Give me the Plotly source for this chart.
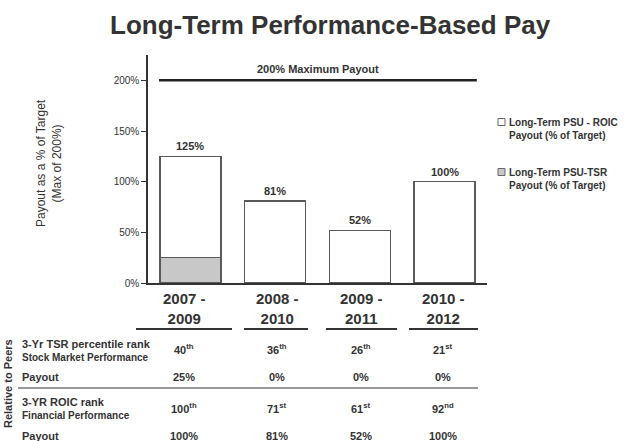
import plotly.graph_objects as go

# ---- data ----
periods = ["2007 -<br>2009", "2008 -<br>2010", "2009 -<br>2011", "2010 -<br>2012"]
tsr_payout = [25, 0, 0, 0]
roic_payout = [100, 81, 52, 100]
total_labels = ["125%", "81%", "52%", "100%"]
tsr_rank = ["40", "36", "26", "21"]
tsr_rank_suffix = ["th", "th", "th", "st"]
tsr_payout_labels = ["25%", "0%", "0%", "0%"]
roic_rank = ["100", "71", "61", "92"]
roic_rank_suffix = ["th", "st", "st", "nd"]
roic_payout_labels = ["100%", "81%", "52%", "100%"]
max_payout = 200
yticks = [0, 50, 100, 150, 200]

FONT = "Arial, Liberation Sans, sans-serif"
TXT = "#333333"

W, H = 627, 441
L, R, T, B = 148, 140, 55, 158
PW, PH = W - L - R, H - T - B


def px(x):
    return (x - L) / PW


def py(y):
    return (H - B - y) / PH


x_idx = list(range(len(periods)))

fig = go.Figure()
fig.add_trace(go.Bar(
    x=x_idx, y=tsr_payout, name="Long-Term PSU-TSR<br>Payout (% of Target)",
    marker=dict(color="#c8c8c8", line=dict(color="#5a5a5a", width=1.5)),
    width=0.72, showlegend=False, hoverinfo="skip"))
fig.add_trace(go.Bar(
    x=x_idx, y=roic_payout, name="Long-Term PSU - ROIC<br>Payout (% of Target)",
    marker=dict(color="#ffffff", line=dict(color="#5a5a5a", width=1.5)),
    width=0.72, showlegend=False, hoverinfo="skip"))

ann = []
# value labels above bars
for i, (a, b) in enumerate(zip(tsr_payout, roic_payout)):
    ann.append(dict(x=i, y=a + b, xref="x", yref="y", text="<b>%s</b>" % total_labels[i],
                    showarrow=False, yanchor="bottom", yshift=2,
                    font=dict(family=FONT, size=11, color=TXT)))

# max payout line
fig.add_shape(type="line", xref="x", yref="y", x0=-0.37, x1=3.38, y0=max_payout, y1=max_payout,
              line=dict(color="#222222", width=2.5))
ann.append(dict(x=1.5, y=max_payout, xref="x", yref="y", text="<b>200% Maximum Payout</b>",
                showarrow=False, yanchor="bottom", yshift=3,
                font=dict(family=FONT, size=11, color=TXT)))

# title
ann.append(dict(x=px(330), y=py(25), xref="paper", yref="paper",
                text="<b>Long-Term Performance-Based Pay</b>", showarrow=False,
                xanchor="center", yanchor="middle",
                font=dict(family=FONT, size=26, color=TXT)))

# y title
ann.append(dict(x=px(49), y=py(163), xref="paper", yref="paper",
                text="Payout as a % of Target<br>(Max of 200%)", showarrow=False,
                textangle=-90, xanchor="center", yanchor="middle",
                font=dict(family=FONT, size=12, color=TXT)))

# legend (manual)
leg = [("Long-Term PSU - ROIC<br>Payout (% of Target)", "#ffffff", 122),
       ("Long-Term PSU-TSR<br>Payout (% of Target)", "#c8c8c8", 172)]
for text, col, yy in leg:
    fig.add_shape(type="rect", xref="paper", yref="paper",
                  x0=px(498), x1=px(505), y0=py(yy + 3.5), y1=py(yy - 3.5),
                  line=dict(color="#666666", width=1), fillcolor=col)
    ann.append(dict(x=px(507), y=py(yy - 7), xref="paper", yref="paper", text="<b>%s</b>" % text,
                    showarrow=False, xanchor="left", yanchor="top", align="left",
                    font=dict(family=FONT, size=10, color=TXT)))

# table
col_x = [184, 277, 361, 443]
line_spans = [(136, 232), (244, 308), (326, 397), (409, 478)]
for i, p in enumerate(periods):
    ann.append(dict(x=px(col_x[i]), y=py(308), xref="paper", yref="paper",
                    text="<b>%s</b>" % p, showarrow=False, xanchor="center", yanchor="middle",
                    font=dict(family=FONT, size=15, color=TXT)))
    a, b = line_spans[i]
    fig.add_shape(type="line", xref="paper", yref="paper", x0=px(a), x1=px(b),
                  y0=py(329), y1=py(329), line=dict(color="#333333", width=2))
    ann.append(dict(x=px(col_x[i]), y=py(349), xref="paper", yref="paper",
                    text="<b>%s<sup>%s</sup></b>" % (tsr_rank[i], tsr_rank_suffix[i]),
                    showarrow=False, xanchor="center", yanchor="middle",
                    font=dict(family=FONT, size=11, color=TXT)))
    ann.append(dict(x=px(col_x[i]), y=py(377), xref="paper", yref="paper",
                    text="<b>%s</b>" % tsr_payout_labels[i],
                    showarrow=False, xanchor="center", yanchor="middle",
                    font=dict(family=FONT, size=11, color=TXT)))
    ann.append(dict(x=px(col_x[i]), y=py(408), xref="paper", yref="paper",
                    text="<b>%s<sup>%s</sup></b>" % (roic_rank[i], roic_rank_suffix[i]),
                    showarrow=False, xanchor="center", yanchor="middle",
                    font=dict(family=FONT, size=11, color=TXT)))
    ann.append(dict(x=px(col_x[i]), y=py(436), xref="paper", yref="paper",
                    text="<b>%s</b>" % roic_payout_labels[i],
                    showarrow=False, xanchor="center", yanchor="middle",
                    font=dict(family=FONT, size=11, color=TXT)))

fig.add_shape(type="line", xref="paper", yref="paper", x0=px(18), x1=px(478),
              y0=py(388), y1=py(388), line=dict(color="#999999", width=2))

row_labels = [("3-Yr TSR percentile rank", 11, 344), ("Stock Market Performance", 10, 357),
              ("Payout", 11, 377), ("3-YR ROIC rank", 11, 402), ("Financial Performance", 10, 415),
              ("Payout", 11, 436)]
for text, size, yy in row_labels:
    ann.append(dict(x=px(20), y=py(yy), xref="paper", yref="paper", text="<b>%s</b>" % text,
                    showarrow=False, xanchor="left", yanchor="middle",
                    font=dict(family=FONT, size=size, color=TXT)))

ann.append(dict(x=px(8), y=py(384), xref="paper", yref="paper", text="<b>Relative to Peers</b>",
                showarrow=False, textangle=-90, xanchor="center", yanchor="middle",
                font=dict(family=FONT, size=11, color=TXT)))

fig.update_layout(
    width=W, height=H, margin=dict(l=L, r=R, t=T, b=B),
    barmode="stack", bargap=0.28,
    paper_bgcolor="white", plot_bgcolor="white",
    font=dict(family=FONT, color=TXT),
    annotations=ann,
    xaxis=dict(range=[-0.5, 3.5], showticklabels=False, ticks="", showgrid=False,
               zeroline=False, showline=True, linecolor="#333333", linewidth=1.5),
    yaxis=dict(range=[0, 225], tickvals=yticks, ticktext=["%d%%" % v for v in yticks],
               ticks="outside", ticklen=5, tickcolor="#333333", showgrid=False, zeroline=False,
               showline=True, linecolor="#333333", linewidth=1.5,
               tickfont=dict(family=FONT, size=10, color=TXT)),
)

fig.write_html("out.html")
